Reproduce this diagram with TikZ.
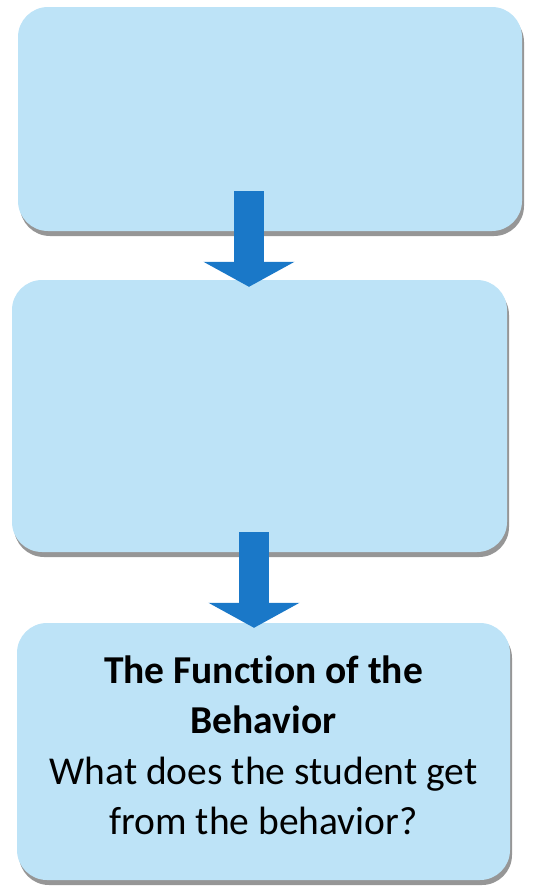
\documentclass[tikz,border=0pt]{standalone}
\usepackage{fontspec}
\setmainfont{Carlito}[Ligatures=NoCommon]
\usetikzlibrary{arrows.meta,shadows}
\definecolor{boxblue}{RGB}{189,227,247}
\definecolor{arrowblue}{RGB}{26,120,200}
\definecolor{shadowgray}{RGB}{150,150,150}
\tikzset{
  flowbox/.style={fill=boxblue, draw=none, rounded corners=30pt, inner sep=0pt,
    general shadow={fill=shadowgray, shadow xshift=2pt, shadow yshift=-5pt}},
  boxtext/.style={align=center, inner sep=0pt, font=\fontsize{39.5pt}{50.5pt}\selectfont},
  bigarrow/.style={draw=arrowblue, line width=30pt,
    -{Triangle[width=90pt,length=25pt,fill=arrowblue]}}
}
\begin{document}
\begin{tikzpicture}[x=1pt,y=-1pt]
\useasboundingbox (0,0) rectangle (533,886);
\node[flowbox, minimum width=504pt, minimum height=224pt] (b1) at (270,119) {};
\node[flowbox, minimum width=495pt, minimum height=272pt] (b2) at (259.5,416) {};
\node[flowbox, minimum width=493pt, minimum height=257pt] (b3) at (263.5,751.5) {};
\node[boxtext] (t3) at ([yshift=6pt]b3.center)
  {\textbf{The Function of the}\\\textbf{Behavior}\\What does the student get\\from the behavior?};
\draw[bigarrow] ([xshift=-21pt,yshift=40pt]b1.south) -- ([xshift=-10.5pt,yshift=-7pt]b2.north);
\draw[bigarrow] ([xshift=-5.5pt,yshift=20pt]b2.south) -- ([xshift=-9.5pt,yshift=-5pt]b3.north);
\end{tikzpicture}
\end{document}
